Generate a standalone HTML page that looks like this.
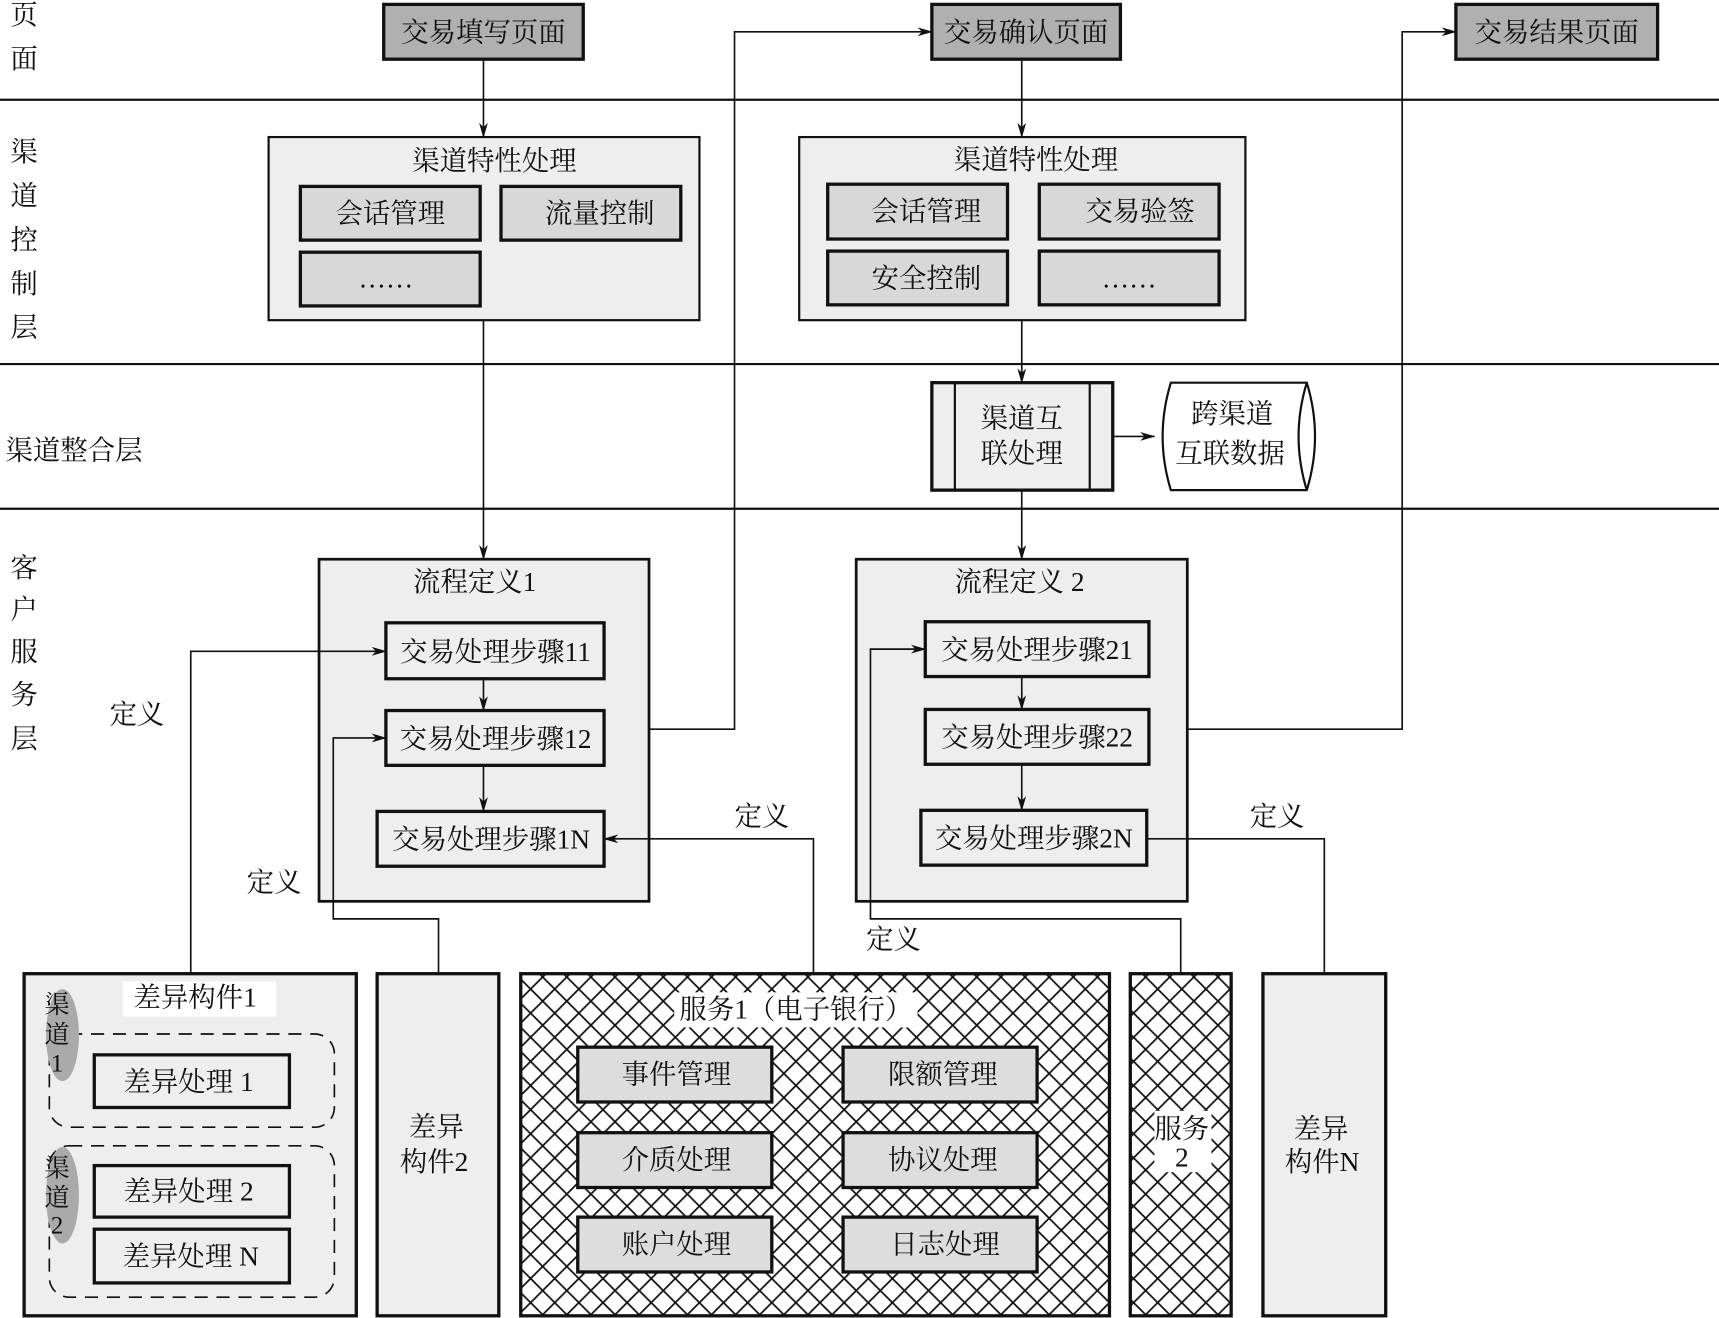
<!DOCTYPE html>
<html><head><meta charset="utf-8"><style>
html,body{margin:0;padding:0;background:#fff;}
svg{display:block;}
text{font-family:"Liberation Serif","Noto Serif CJK SC",serif;font-size:25px;fill:#111;}
</style></head><body>
<svg width="1719" height="1318" viewBox="0 0 1568 1202" preserveAspectRatio="none" xmlns="http://www.w3.org/2000/svg">
<defs>
<pattern id="h" width="22" height="22" patternUnits="userSpaceOnUse">
<rect width="22" height="22" fill="#fff"/>
<path d="M0,0L22,22M22,0L0,22" stroke="#111" stroke-width="1.6"/>
</pattern>
<marker id="a" markerWidth="14" markerHeight="8" refX="13" refY="4" orient="auto" markerUnits="userSpaceOnUse">
<path d="M0,0L14,4L0,8L4,4z" fill="#111"/>
</marker>
</defs>
<g stroke="#111" stroke-width="2">
<line x1="0" y1="91" x2="1568" y2="91"/>
<line x1="0" y1="332" x2="1568" y2="332"/>
<line x1="0" y1="464" x2="1568" y2="464"/>
</g>
<!-- left labels -->
<g text-anchor="middle">
<text x="22" y="22">页</text><text x="22" y="62">面</text>
<text x="22" y="147">渠</text><text x="22" y="187">道</text><text x="22" y="227">控</text><text x="22" y="267">制</text><text x="22" y="307">层</text>
<text x="22" y="526">客</text><text x="22" y="564">户</text><text x="22" y="603">服</text><text x="22" y="642">务</text><text x="22" y="682">层</text>
</g>
<text x="5" y="419">渠道整合层</text>
<!-- pages -->
<g fill="#b0b0b0" stroke="#111" stroke-width="3">
<rect x="350" y="4" width="182" height="50"/>
<rect x="850" y="4" width="172" height="50"/>
<rect x="1328" y="4" width="184" height="50"/>
</g>
<g text-anchor="middle">
<text x="441" y="38">交易填写页面</text>
<text x="936" y="38">交易确认页面</text>
<text x="1420" y="38">交易结果页面</text>
</g>
<!-- channel boxes -->
<g fill="#eeeeee" stroke="#111" stroke-width="2">
<rect x="245" y="125" width="393" height="167"/>
<rect x="729" y="125" width="407" height="167"/>
</g>
<g fill="#d8d8d8" stroke="#111" stroke-width="3">
<rect x="274" y="170" width="164" height="49"/>
<rect x="457" y="170" width="164" height="49"/>
<rect x="274" y="230" width="164" height="49"/>
<rect x="755" y="168" width="164" height="50"/>
<rect x="948" y="168" width="164" height="50"/>
<rect x="755" y="229" width="164" height="49"/>
<rect x="948" y="229" width="164" height="49"/>
</g>
<g text-anchor="middle">
<text x="451" y="155">渠道特性处理</text>
<text x="356" y="203">会话管理</text>
<text x="547" y="203">流量控制</text>
<text x="352" y="262">……</text>
<text x="945" y="154">渠道特性处理</text>
<text x="845" y="201">会话管理</text>
<text x="1040" y="201">交易验签</text>
<text x="845" y="262">安全控制</text>
<text x="1030" y="262">……</text>
</g>
<!-- integration -->
<rect x="850" y="349" width="165" height="98" fill="#eeeeee" stroke="#111" stroke-width="3"/>
<line x1="871" y1="349" x2="871" y2="447" stroke="#111" stroke-width="2"/>
<line x1="994" y1="349" x2="994" y2="447" stroke="#111" stroke-width="2"/>
<text x="932" y="390" text-anchor="middle">渠道互</text>
<text x="932" y="422" text-anchor="middle">联处理</text>
<path d="M1068,349 L1192,349 Q1207,398 1192,447 L1068,447 Q1053,398 1068,349 Z" fill="#fff" stroke="#111" stroke-width="2"/>
<path d="M1192,349 Q1177,398 1192,447" fill="none" stroke="#111" stroke-width="2"/>
<text x="1124" y="386" text-anchor="middle">跨渠道</text>
<text x="1122" y="422" text-anchor="middle">互联数据</text>
<!-- flow boxes -->
<g fill="#eeeeee" stroke="#111" stroke-width="2.5">
<rect x="291" y="510" width="301" height="312"/>
<rect x="781" y="510" width="302" height="312"/>
</g>
<g fill="#eeeeee" stroke="#111" stroke-width="3">
<rect x="352" y="568" width="199" height="51"/>
<rect x="352" y="648" width="199" height="50"/>
<rect x="344" y="740" width="207" height="50"/>
<rect x="844" y="567" width="204" height="50"/>
<rect x="844" y="647" width="204" height="50"/>
<rect x="840" y="739" width="206" height="50"/>
</g>
<g text-anchor="middle">
<text x="433" y="539">流程定义1</text>
<text x="930" y="539">流程定义 2</text>
<text x="452" y="603">交易处理步骤11</text>
<text x="452" y="682">交易处理步骤12</text>
<text x="448" y="774">交易处理步骤1N</text>
<text x="946" y="601">交易处理步骤21</text>
<text x="946" y="681">交易处理步骤22</text>
<text x="943" y="773">交易处理步骤2N</text>
</g>
<!-- connectors -->
<g stroke="#111" stroke-width="1.5" fill="none">
<line x1="441" y1="54" x2="441" y2="125" marker-end="url(#a)"/>
<line x1="441" y1="292" x2="441" y2="510" marker-end="url(#a)"/>
<line x1="932" y1="54" x2="932" y2="125" marker-end="url(#a)"/>
<line x1="932" y1="292" x2="932" y2="349" marker-end="url(#a)"/>
<line x1="932" y1="447" x2="932" y2="510" marker-end="url(#a)"/>
<line x1="1015" y1="398" x2="1053" y2="398" marker-end="url(#a)"/>
<line x1="441" y1="619" x2="441" y2="648" marker-end="url(#a)"/>
<line x1="441" y1="698" x2="441" y2="740" marker-end="url(#a)"/>
<line x1="932" y1="617" x2="932" y2="647" marker-end="url(#a)"/>
<line x1="932" y1="697" x2="932" y2="739" marker-end="url(#a)"/>
<polyline points="592,665 670,665 670,29 850,29" marker-end="url(#a)"/>
<polyline points="1083,665 1279,665 1279,29 1328,29" marker-end="url(#a)"/>
<polyline points="174,888 174,594 352,594" marker-end="url(#a)"/>
<polyline points="400,888 400,838 304,838 304,673 352,673" marker-end="url(#a)"/>
<polyline points="742,888 742,765 551,765" marker-end="url(#a)"/>
<polyline points="1077,888 1077,838 794,838 794,592 844,592" marker-end="url(#a)"/>
<polyline points="1208,888 1208,765 1046,765"/>
</g>
<g>
<text x="100" y="660">定义</text>
<text x="225" y="813">定义</text>
<text x="670" y="753">定义</text>
<text x="790" y="865">定义</text>
<text x="1140" y="753">定义</text>
</g>
<!-- bottom -->
<rect x="22" y="888" width="303" height="312" fill="#eeeeee" stroke="#111" stroke-width="3"/>
<rect x="112" y="895" width="140" height="32" fill="#fff"/>
<text x="178" y="918" text-anchor="middle">差异构件1</text>
<rect x="45" y="943" width="260" height="85" rx="18" fill="none" stroke="#111" stroke-width="1.5" stroke-dasharray="12,8"/>
<rect x="45" y="1045" width="260" height="138" rx="18" fill="none" stroke="#111" stroke-width="1.5" stroke-dasharray="12,8"/>
<ellipse cx="57" cy="944" rx="15" ry="42" fill="#aaaaaa"/>
<ellipse cx="57" cy="1090" rx="15" ry="44" fill="#aaaaaa"/>
<g text-anchor="middle" font-size="24">
<text x="52" y="924" style="font-size:23px">渠</text><text x="52" y="951" style="font-size:23px">道</text><text x="52" y="977" style="font-size:23px">1</text>
<text x="52" y="1073" style="font-size:23px">渠</text><text x="52" y="1100" style="font-size:23px">道</text><text x="52" y="1125" style="font-size:23px">2</text>
</g>
<g fill="#eeeeee" stroke="#111" stroke-width="3">
<rect x="86" y="962" width="178" height="48"/>
<rect x="86" y="1063" width="178" height="47"/>
<rect x="86" y="1121" width="178" height="49"/>
</g>
<g text-anchor="middle">
<text x="172" y="995">差异处理 1</text>
<text x="172" y="1095">差异处理 2</text>
<text x="174" y="1154">差异处理 N</text>
</g>
<rect x="344" y="888" width="111" height="312" fill="#eeeeee" stroke="#111" stroke-width="3"/>
<text x="398" y="1036" text-anchor="middle">差异</text>
<text x="396" y="1068" text-anchor="middle">构件2</text>
<rect x="475" y="888" width="537" height="312" fill="url(#h)" stroke="#111" stroke-width="3"/>
<rect x="615" y="905" width="222" height="32" fill="#fff"/>
<text x="726" y="929" text-anchor="middle">服务1（电子银行）</text>
<g fill="#dddddd" stroke="#111" stroke-width="3">
<rect x="527" y="955" width="177" height="50"/>
<rect x="769" y="955" width="177" height="50"/>
<rect x="527" y="1033" width="177" height="50"/>
<rect x="769" y="1033" width="177" height="50"/>
<rect x="527" y="1110" width="177" height="50"/>
<rect x="769" y="1110" width="177" height="50"/>
</g>
<g text-anchor="middle">
<text x="617" y="988">事件管理</text>
<text x="860" y="988">限额管理</text>
<text x="617" y="1066">介质处理</text>
<text x="860" y="1066">协议处理</text>
<text x="617" y="1143">账户处理</text>
<text x="862" y="1143">日志处理</text>
</g>
<rect x="1031" y="888" width="92" height="312" fill="url(#h)" stroke="#111" stroke-width="3"/>
<rect x="1053" y="1013" width="52" height="56" fill="#fff"/>
<text x="1078" y="1038" text-anchor="middle">服务</text>
<text x="1078" y="1064" text-anchor="middle">2</text>
<rect x="1152" y="888" width="112" height="312" fill="#eeeeee" stroke="#111" stroke-width="3"/>
<text x="1205" y="1038" text-anchor="middle">差异</text>
<text x="1206" y="1068" text-anchor="middle">构件N</text>
</svg>
</body></html>
